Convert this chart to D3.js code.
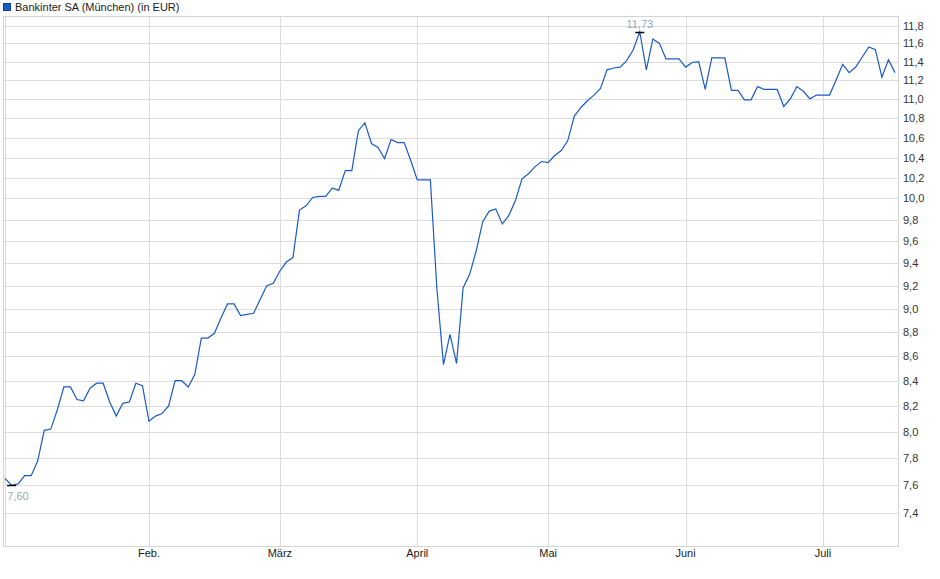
<!DOCTYPE html>
<html>
<head>
    <meta charset="utf-8">
    <title>Bankinter SA (München)</title>
    <script src="https://d3js.org/d3.v7.min.js"></script>
    <style>
        body { margin: 0; background: #fff; }
        text { font-family: "Liberation Sans", Arial, sans-serif; font-size: 11px; }
    </style>
</head>
<body>
    <div id="chart"></div>

    <script>
        // Daily closing prices (EUR), one array per month, trading days only
        const jan = [7.65, 7.60, 7.61, 7.67, 7.67, 7.78, 8.01, 8.02, 8.17, 8.35, 8.35,
                     8.25, 8.24, 8.34, 8.38, 8.38, 8.23, 8.12, 8.22, 8.23, 8.38, 8.36];
        const feb = [8.08, 8.12, 8.14, 8.20, 8.40, 8.40, 8.35, 8.45, 8.75, 8.75,
                     8.79, 8.92, 9.04, 9.04, 8.94, 8.95, 8.96, 9.08, 9.20, 9.22];
        const mar = [9.33, 9.41, 9.45, 9.89, 9.93, 10.01, 10.02, 10.02, 10.10, 10.08, 10.27,
                     10.27, 10.67, 10.75, 10.54, 10.50, 10.39, 10.58, 10.55, 10.55, 10.37];
        const apr = [10.18, 10.18, 10.18, 9.17, 8.53, 8.78, 8.54, 9.18, 9.30, 9.51,
                     9.78, 9.88, 9.90, 9.76, 9.84, 9.98, 10.19, 10.24, 10.31, 10.36];
        const may = [10.35, 10.42, 10.47, 10.57, 10.82, 10.91, 10.98, 11.04, 11.11, 11.31, 11.33,
                     11.34, 11.41, 11.53, 11.73, 11.31, 11.65, 11.60, 11.43, 11.43, 11.43];
        const jun = [11.34, 11.39, 11.40, 11.10, 11.44, 11.44, 11.44, 11.09, 11.09, 10.99, 10.99,
                     11.13, 11.10, 11.10, 11.10, 10.92, 11.00, 11.13, 11.08, 11.00, 11.04];
        const jul = [11.04, 11.04, 11.20, 11.37, 11.28, 11.34, 11.45, 11.56, 11.53, 11.23, 11.42, 11.28];

        const months = [jan, feb, mar, apr, may, jun, jul];
        const monthLabels = ["", "Feb.", "März", "April", "Mai", "Juni", "Juli"];
        const yTicks = [7.4, 7.6, 7.8, 8.0, 8.2, 8.4, 8.6, 8.8, 9.0, 9.2, 9.4, 9.6,
                        9.8, 10.0, 10.2, 10.4, 10.6, 10.8, 11.0, 11.2, 11.4, 11.6, 11.8];
        const seriesName = "Bankinter SA (München) (in EUR)";

        // flatten to one series, remember where each month starts
        const closes = months.flat();
        const monthStart = [];
        let n = 0;
        months.forEach(m => { monthStart.push(n); n += m.length; });

        const W = 940, H = 579;
        const frame = { left: 3, right: 898, top: 16, bottom: 546 };

        const svg = d3.select("#chart")
          .append("svg")
            .attr("width", W)
            .attr("height", H);

        // index based x (trading days), log y
        const x = d3.scaleLinear()
          .domain([0, closes.length - 1])
          .range([5.0, 895.0]);
        const y = d3.scaleLog()
          .domain([7.171, 11.908])
          .range([frame.bottom, frame.top]);

        const fmt = v => v.toFixed(2).replace(".", ",");

        // horizontal grid
        svg.append("g")
          .selectAll("line")
          .data(yTicks)
          .enter().append("line")
            .attr("x1", frame.left).attr("x2", frame.right)
            .attr("y1", d => Math.round(y(d)) + 0.5)
            .attr("y2", d => Math.round(y(d)) + 0.5)
            .style("stroke", "#dcdcdc");

        // vertical grid at month starts
        svg.append("g")
          .selectAll("line")
          .data(monthStart)
          .enter().append("line")
            .attr("x1", d => Math.round(x(d)) + 0.5)
            .attr("x2", d => Math.round(x(d)) + 0.5)
            .attr("y1", frame.top).attr("y2", frame.bottom)
            .style("stroke", "#dcdcdc");

        // frame
        svg.append("rect")
          .attr("x", frame.left + 0.5).attr("y", frame.top + 0.5)
          .attr("width", frame.right - frame.left)
          .attr("height", frame.bottom - frame.top)
          .style("fill", "none")
          .style("stroke", "#d4d4d4");

        // y labels on the right
        svg.append("g")
          .selectAll("text")
          .data(yTicks)
          .enter().append("text")
            .attr("x", 903)
            .attr("y", d => y(d) + 4)
            .text(d => d.toFixed(1).replace(".", ","))
            .style("fill", "#333");

        // month labels
        svg.append("g")
          .selectAll("text")
          .data(monthStart)
          .enter().append("text")
            .attr("x", d => x(d))
            .attr("y", 557)
            .attr("text-anchor", "middle")
            .text((d, i) => monthLabels[i])
            .style("fill", "#222");

        // price line
        const line = d3.line()
          .x((d, i) => x(i))
          .y(d => y(d));

        svg.append("path")
          .datum(closes)
          .attr("d", line)
          .style("fill", "none")
          .style("stroke", "#1a5bc8")
          .style("stroke-width", 1.2);

        // high / low markers
        const hiIdx = d3.maxIndex(closes), loIdx = d3.minIndex(closes);
        [[hiIdx, -1], [loIdx, 1]].forEach(([i, dir]) => {
            const px = x(i), py = Math.round(y(closes[i])) + 0.5;
            svg.append("line")
              .attr("x1", px - 4.5).attr("x2", px + 4.5)
              .attr("y1", py).attr("y2", py)
              .style("stroke", "#000")
              .style("stroke-width", 1.5);
            svg.append("text")
              .attr("x", Math.max(px, frame.left + 15))
              .attr("y", dir < 0 ? py - 5 : py + 14)
              .attr("text-anchor", "middle")
              .text(fmt(closes[i]))
              .style("fill", "#9ea6b8");
        });

        // legend
        svg.append("rect")
          .attr("x", 3.5).attr("y", 3.5)
          .attr("width", 7).attr("height", 7)
          .style("fill", "#1a5bc8")
          .style("stroke", "#0f3d8f");
        svg.append("text")
          .attr("x", 15)
          .attr("y", 11)
          .text(seriesName)
          .style("fill", "#222");
    </script>
</body>
</html>
